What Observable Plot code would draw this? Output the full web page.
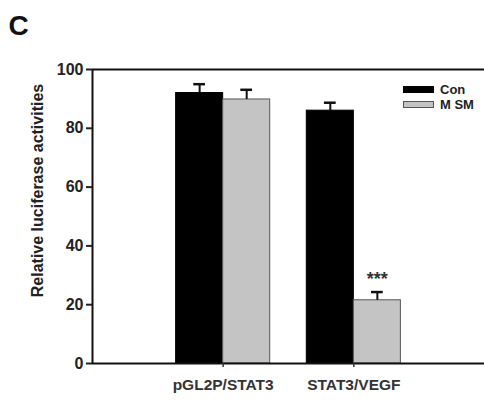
<!DOCTYPE html>
<html>
<head>
<meta charset="utf-8">
<script src="https://cdn.jsdelivr.net/npm/d3@7"></script>
<script src="https://cdn.jsdelivr.net/npm/@observablehq/plot@0.6"></script>
<style>
  html, body { margin: 0; padding: 0; background: #fff; }
  #wrap { position: relative; width: 484px; height: 403px; font-family: "Liberation Sans", Arial, sans-serif; }
  #legend { position: absolute; left: 403px; top: 82px; font-weight: bold; font-size: 13px; color: #222; }
  .item { display: flex; align-items: center; height: 15px; }
  .sw { width: 31px; height: 7px; box-sizing: border-box; margin-right: 6px; }
</style>
</head>
<body>
<div id="wrap"></div>
<script>
const groups = ["pGL2P/STAT3", "STAT3/VEGF"];
const series = ["Con", "M SM"];
const conValues = [92, 86];
const conErrors = [3.0, 2.7];
const msmValues = [89.8, 21.5];
const msmErrors = [3.3, 2.8];
const msmSignificance = ["", "***"];
const yTicks = [0, 20, 40, 60, 80, 100];
const colors = ["#000000", "#c4c4c4"];
const strokes = ["#000000", "#555555"];

const bw = 0.36; // bar width in group units
const rows = [];
groups.forEach((g, i) => {
  rows.push({gi: i, j: 0, value: conValues[i], err: conErrors[i], sig: ""});
  rows.push({gi: i, j: 1, value: msmValues[i], err: msmErrors[i], sig: msmSignificance[i]});
});
rows.forEach(d => {
  d.x1 = d.gi - bw + d.j * bw;
  d.x2 = d.x1 + bw;
  d.xc = (d.x1 + d.x2) / 2;
});

const font = {fontFamily: "Liberation Sans, Arial, sans-serif", fontWeight: "bold"};

const chart = Plot.plot({
  width: 484,
  height: 403,
  marginTop: 69,
  marginBottom: 40,
  marginLeft: 92,
  marginRight: 0,
  style: {fontFamily: "Liberation Sans, Arial, sans-serif", background: "#fff"},
  x: {type: "linear", domain: [-1, 2], axis: null},
  y: {domain: [0, 100], axis: null},
  marks: [
    Plot.rectY(rows, {x1: "x1", x2: "x2", y1: 0, y2: "value",
      fill: d => colors[d.j], stroke: d => strokes[d.j], strokeWidth: 1}),
    Plot.ruleX(rows, {x: "xc", y1: "value", y2: d => d.value + d.err, stroke: "#111", strokeWidth: 2}),
    Plot.ruleY(rows, {y: d => d.value + d.err, x1: d => d.xc - 0.045, x2: d => d.xc + 0.045, stroke: "#111", strokeWidth: 2.5}),
    Plot.text(rows.filter(d => d.sig), {x: "xc", y: d => d.value + d.err, text: "sig", dy: -13, fontSize: 18, ...font, fill: "#333"}),
    Plot.ruleY([yTicks[0], yTicks[yTicks.length - 1]], {stroke: "#111", strokeWidth: 2}),
    Plot.ruleX([-1], {stroke: "#111", strokeWidth: 2}),
    Plot.axisY({ticks: yTicks, tickSize: 6, tickPadding: 3, label: null, fontSize: 16, ...font, color: "#222", strokeWidth: 2}),
    Plot.axisX({ticks: [0, 1], tickFormat: i => groups[i], tickSize: 4, tickPadding: 11, label: null, fontSize: 15.5, ...font, color: "#333", strokeWidth: 1.5}),
    Plot.text(["Relative luciferase activities"], {frameAnchor: "left", textAnchor: "middle", lineAnchor: "middle", rotate: -90, dx: -55, dy: -26, fontSize: 16, ...font, fill: "#222"}),
    Plot.text(["C"], {frameAnchor: "top-left", dx: -84, dy: -54, fontSize: 28, ...font, fill: "#111"})
  ]
});

const wrap = document.getElementById("wrap");
wrap.appendChild(chart);
const legend = document.createElement("div");
legend.id = "legend";
series.forEach((s, j) => {
  const item = document.createElement("div");
  item.className = "item";
  const sw = document.createElement("div");
  sw.className = "sw";
  sw.style.background = colors[j];
  sw.style.border = "1px solid " + strokes[j];
  const lab = document.createElement("span");
  lab.textContent = s;
  item.appendChild(sw);
  item.appendChild(lab);
  legend.appendChild(item);
});
wrap.appendChild(legend);
</script>
</body>
</html>
